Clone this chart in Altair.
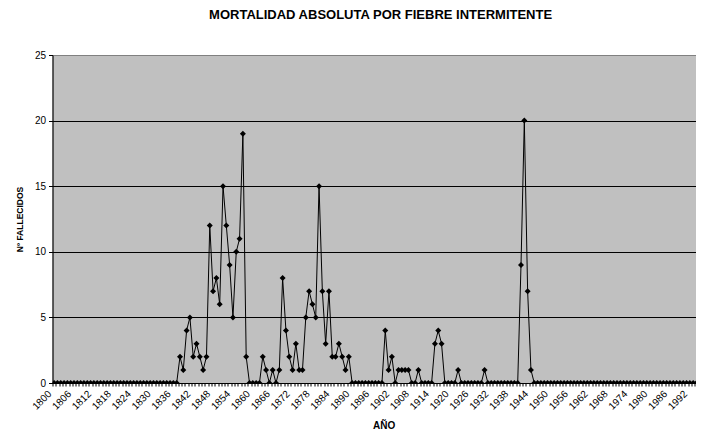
import altair as alt
import pandas as pd

# Categories: one per year, 1800-1999
years = list(range(1800, 2000))

# Absolute deaths per year
deaths = [
    # 1800-1809
    0, 0, 0, 0, 0, 0, 0, 0, 0, 0,
    # 1810-1819
    0, 0, 0, 0, 0, 0, 0, 0, 0, 0,
    # 1820-1829
    0, 0, 0, 0, 0, 0, 0, 0, 0, 0,
    # 1830-1839
    0, 0, 0, 0, 0, 0, 0, 0, 2, 1,
    # 1840-1849
    4, 5, 2, 3, 2, 1, 2, 12, 7, 8,
    # 1850-1859
    6, 15, 12, 9, 5, 10, 11, 19, 2, 0,
    # 1860-1869
    0, 0, 0, 2, 1, 0, 1, 0, 1, 8,
    # 1870-1879
    4, 2, 1, 3, 1, 1, 5, 7, 6, 5,
    # 1880-1889
    15, 7, 3, 7, 2, 2, 3, 2, 1, 2,
    # 1890-1899
    0, 0, 0, 0, 0, 0, 0, 0, 0, 0,
    # 1900-1909
    4, 1, 2, 0, 1, 1, 1, 1, 0, 0,
    # 1910-1919
    1, 0, 0, 0, 0, 3, 4, 3, 0, 0,
    # 1920-1929
    0, 0, 1, 0, 0, 0, 0, 0, 0, 0,
    # 1930-1939
    1, 0, 0, 0, 0, 0, 0, 0, 0, 0,
    # 1940-1949
    0, 9, 20, 7, 1, 0, 0, 0, 0, 0,
    # 1950-1959
    0, 0, 0, 0, 0, 0, 0, 0, 0, 0,
    # 1960-1969
    0, 0, 0, 0, 0, 0, 0, 0, 0, 0,
    # 1970-1979
    0, 0, 0, 0, 0, 0, 0, 0, 0, 0,
    # 1980-1989
    0, 0, 0, 0, 0, 0, 0, 0, 0, 0,
    # 1990-1999
    0, 0, 0, 0, 0, 0, 0, 0, 0, 0,
]

y_ticks = [0, 5, 10, 15, 20, 25]

df = pd.DataFrame({"year": years, "deaths": deaths})

FONT = "Liberation Sans"
STEP = 3.311               # pixels per year in the reference
SVG_W = 688                # keep the page from overflowing (704 - 2*8 margin)
SVG_H = 424
PAD_LEFT = 44.5
PAD_TOP = 47
PLOT_W = SVG_W - PAD_LEFT  # visible part of the plot (reference is cropped on the right)
PLOT_H = 328
FULL_W = STEP * len(years)  # full (uncropped) plot width, used for centring titles
half_step = STEP / 2
x_max = years[0] - 0.5 + PLOT_W / STEP

x_enc = alt.X(
    "year:Q",
    scale=alt.Scale(domain=[years[0] - 0.5, x_max], nice=False, zero=False),
    axis=alt.Axis(
        values=years,
        format="d",
        labelExpr="(datum.value - 1800) % 6 == 0 ? datum.label : ''",
        labelOverlap=False,
        labelAngle=-45,
        labelAlign="right",
        labelBaseline="middle",
        labelFont=FONT,
        labelFontSize=10,
        labelColor="black",
        labelPadding=6,
        labelOffset=-3,
        tickOffset=-half_step,
        tickSize=3,
        tickColor="black",
        domainColor="black",
        grid=False,
        title="AÑO",
        titleFont=FONT,
        titleFontSize=10,
        titleFontWeight="bold",
        titleColor="black",
        titlePadding=9,
        titleX=FULL_W / 2,
    ),
)

y_enc = alt.Y(
    "deaths:Q",
    scale=alt.Scale(domain=[0, 25], nice=False),
    axis=alt.Axis(
        values=y_ticks,
        labelFont=FONT,
        labelFontSize=10,
        labelColor="black",
        labelPadding=3,
        tickSize=4,
        tickColor="black",
        domainColor="black",
        grid=True,
        gridColor={"condition": {"test": "datum.value == 25", "value": "#808080"}, "value": "black"},
        gridOpacity=1,
        gridWidth=1,
        title="Nº FALLECIDOS",
        titleFont=FONT,
        titleFontSize=8.5,
        titleFontWeight="bold",
        titleColor="black",
        titlePadding=10,
    ),
)

base = alt.Chart(df).encode(x=x_enc, y=y_enc)

line = base.mark_line(color="black", strokeWidth=1, clip=True)
pts = base.mark_point(shape="diamond", filled=True, color="black", size=36, opacity=1, clip=True)

chart = (
    alt.layer(line, pts)
    .properties(
        width=PLOT_W,
        height=PLOT_H,
        background="white",
        title=alt.TitleParams(
            "MORTALIDAD ABSOLUTA POR FIEBRE INTERMITENTE",
            font=FONT,
            fontSize=13,
            fontWeight="bold",
            color="black",
            anchor="middle",
            frame="group",
            offset=28,
            dx=(FULL_W - PLOT_W) / 2 - 3,
        ),
        autosize="none",
        padding={"left": PAD_LEFT, "top": PAD_TOP, "right": 0, "bottom": SVG_H - PAD_TOP - PLOT_H},
    )
    .configure_view(fill="#C0C0C0", stroke="#808080", strokeWidth=1)
)

chart.save("out.html", embed_options={"renderer": "svg", "actions": False})
